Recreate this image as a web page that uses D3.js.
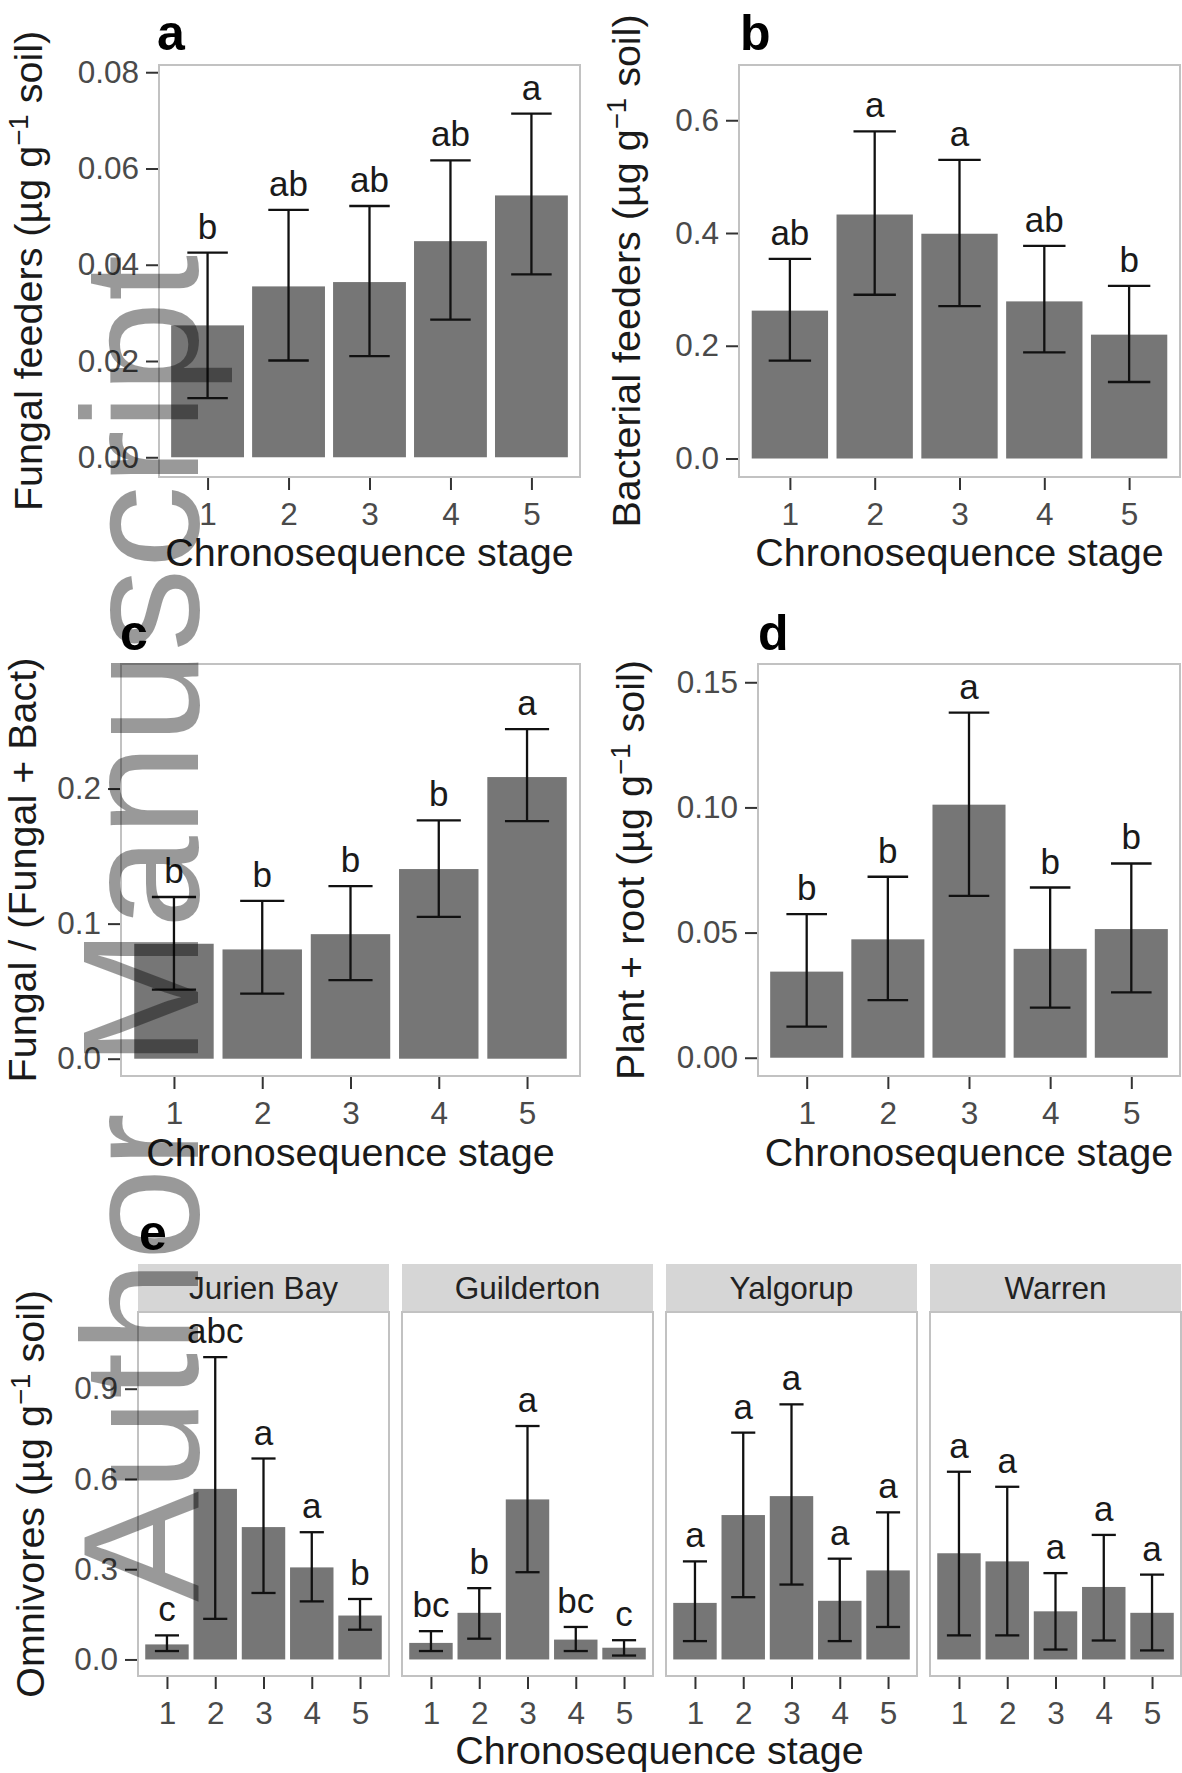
<!DOCTYPE html>
<html>
<head>
<meta charset="utf-8">
<script src="https://cdn.jsdelivr.net/npm/d3@7"></script>
<style>
  body { margin: 0; background: #fff; }
  svg { display: block; font-family: "Liberation Sans", Arial, Helvetica, sans-serif; }
</style>
</head>
<body>
<script>
// ---------------- data ----------------
var stages = ["1", "2", "3", "4", "5"];

// a : fungal feeders
var fungalMean = [0.0274, 0.0355, 0.0364, 0.0449, 0.0544];
var fungalLow  = [0.0123, 0.0201, 0.0210, 0.0286, 0.0380];
var fungalHigh = [0.0425, 0.0514, 0.0522, 0.0617, 0.0714];
var fungalLetters = ["b", "ab", "ab", "ab", "a"];
var fungalTicks = [0, 0.02, 0.04, 0.06, 0.08];

// b : bacterial feeders
var bactMean = [0.2623, 0.4328, 0.3987, 0.2787, 0.2197];
var bactLow  = [0.1738, 0.2905, 0.2702, 0.1882, 0.1357];
var bactHigh = [0.3541, 0.5803, 0.5298, 0.3770, 0.3062];
var bactLetters = ["ab", "a", "a", "ab", "b"];
var bactTicks = [0, 0.2, 0.4, 0.6];

// c : fungal / (fungal + bact)
var ratioMean = [0.0851, 0.0809, 0.0922, 0.1404, 0.2085];
var ratioLow  = [0.0511, 0.0482, 0.0582, 0.1050, 0.1759];
var ratioHigh = [0.1197, 0.1169, 0.1277, 0.1765, 0.2440];
var ratioLetters = ["b", "b", "b", "b", "a"];
var ratioTicks = [0, 0.1, 0.2];

// d : plant + root feeders
var plantMean = [0.0344, 0.0473, 0.1011, 0.0435, 0.0514];
var plantLow  = [0.0124, 0.0230, 0.0647, 0.0200, 0.0261];
var plantHigh = [0.0574, 0.0723, 0.1379, 0.0680, 0.0776];
var plantLetters = ["b", "b", "a", "b", "b"];
var plantTicks = [0, 0.05, 0.10, 0.15];

// e : omnivores by site
var sites = ["Jurien Bay", "Guilderton", "Yalgorup", "Warren"];
var omniMean = [
  [0.050, 0.567, 0.440, 0.306, 0.146],
  [0.055, 0.155, 0.532, 0.066, 0.039],
  [0.188, 0.480, 0.543, 0.195, 0.296],
  [0.353, 0.326, 0.160, 0.241, 0.155]
];
var omniLow = [
  [0.028, 0.135, 0.221, 0.193, 0.099],
  [0.028, 0.069, 0.290, 0.028, 0.013],
  [0.061, 0.207, 0.249, 0.061, 0.108],
  [0.080, 0.080, 0.033, 0.063, 0.030]
];
var omniHigh = [
  [0.080, 1.005, 0.668, 0.423, 0.201],
  [0.094, 0.237, 0.776, 0.108, 0.064],
  [0.326, 0.754, 0.848, 0.335, 0.489],
  [0.624, 0.574, 0.287, 0.414, 0.282]
];
var omniLetters = [
  ["c", "abc", "a", "a", "b"],
  ["bc", "b", "a", "bc", "c"],
  ["a", "a", "a", "a", "a"],
  ["a", "a", "a", "a", "a"]
];
var omniTicks = [0, 0.3, 0.6, 0.9];

var xTitle = "Chronosequence stage";

// ---------------- look ----------------
var W = 1182, H = 1773;
var barFill = "#767676",
    borderCol = "#c2c2c2",
    tickCol = "#333",
    tickText = "#4a4a4a",
    tickSize = 31.5,
    titleSize = 39.5,
    letterSize = 35;

var svg = d3.select("body").append("svg")
  .attr("width", W)
  .attr("height", H);

function drawPanel(p) {
  var x = d3.scalePoint().domain(stages).range([p.L, p.R]).padding(0.6);
  var y = d3.scaleLinear().domain(p.domain).range([p.B, p.T]);
  var step = x.step();
  var g = svg.append("g");

  g.append("rect")
    .attr("x", p.L).attr("y", p.T)
    .attr("width", p.R - p.L).attr("height", p.B - p.T)
    .attr("fill", "#fff");

  var rows = stages.map(function(s, i) {
    return {s: s, m: p.mean[i], lo: p.low[i], hi: p.high[i], lab: p.letters[i]};
  });

  g.selectAll(".bar").data(rows).enter().append("rect")
    .attr("x", function(d) { return x(d.s) - 0.45 * step; })
    .attr("width", 0.9 * step)
    .attr("y", function(d) { return y(d.m); })
    .attr("height", function(d) { return y(0) - y(d.m); })
    .attr("fill", barFill);

  var eb = g.selectAll(".err").data(rows).enter().append("g")
    .attr("stroke", "#111").attr("stroke-width", 2.3);
  eb.append("line")
    .attr("x1", function(d) { return x(d.s); })
    .attr("x2", function(d) { return x(d.s); })
    .attr("y1", function(d) { return y(d.lo); })
    .attr("y2", function(d) { return y(d.hi); });
  ["lo", "hi"].forEach(function(k) {
    eb.append("line")
      .attr("x1", function(d) { return x(d.s) - 0.25 * step; })
      .attr("x2", function(d) { return x(d.s) + 0.25 * step; })
      .attr("y1", function(d) { return y(d[k]); })
      .attr("y2", function(d) { return y(d[k]); });
  });

  g.selectAll(".lab").data(rows).enter().append("text")
    .attr("x", function(d) { return x(d.s); })
    .attr("y", function(d) { return y(d.hi) - 14; })
    .attr("text-anchor", "middle")
    .attr("font-size", letterSize)
    .attr("fill", "#1a1a1a")
    .text(function(d) { return d.lab; });

  g.append("rect")
    .attr("x", p.L).attr("y", p.T)
    .attr("width", p.R - p.L).attr("height", p.B - p.T)
    .attr("fill", "none")
    .attr("stroke", borderCol)
    .attr("stroke-width", 2);

  // x axis
  var ax = g.append("g")
    .attr("transform", "translate(0," + (p.B + 1) + ")")
    .call(d3.axisBottom(x).tickSize(12).tickPadding(13));
  styleAxis(ax);

  if (p.ticks) {
    var ay = g.append("g")
      .attr("transform", "translate(" + (p.L - 1) + ",0)")
      .call(d3.axisLeft(y).tickValues(p.ticks).tickFormat(d3.format(p.fmt))
        .tickSize(12).tickPadding(7));
    styleAxis(ay);
  }
  return {x: x, y: y};
}

function styleAxis(a) {
  a.select(".domain").remove();
  a.selectAll(".tick line").attr("stroke", tickCol).attr("stroke-width", 2);
  a.selectAll(".tick text")
    .attr("fill", tickText)
    .attr("font-size", tickSize)
    .attr("font-family", "Liberation Sans, Arial, sans-serif");
}

function yTitle(x, cy, main, unit) {
  var t = svg.append("text")
    .attr("transform", "translate(" + x + "," + cy + ") rotate(-90)")
    .attr("text-anchor", "middle")
    .attr("font-size", titleSize)
    .attr("fill", "#1a1a1a");
  if (unit) {
    t.append("tspan").text(main + " (\u00b5g g");
    t.append("tspan").attr("font-size", titleSize * 0.7).attr("dy", -14).text("\u22121");
    t.append("tspan").attr("dy", 14).text(" soil)");
  } else {
    t.text(main);
  }
}

function xTitleAt(cx, y) {
  svg.append("text")
    .attr("x", cx).attr("y", y)
    .attr("text-anchor", "middle")
    .attr("font-size", titleSize)
    .attr("fill", "#1a1a1a")
    .text(xTitle);
}

function tag(x, y, s) {
  svg.append("text")
    .attr("x", x).attr("y", y)
    .attr("font-size", 50)
    .attr("font-weight", "bold")
    .attr("fill", "#000")
    .text(s);
}

// ---------------- panel a ----------------
drawPanel({L: 159, R: 580, T: 65, B: 477, domain: [-0.0041, 0.0815],
  mean: fungalMean, low: fungalLow, high: fungalHigh, letters: fungalLetters,
  ticks: fungalTicks, fmt: ".2f"});
tag(157, 50, "a");
yTitle(42, 271, "Fungal feeders", true);
xTitleAt(369.5, 566);

// ---------------- panel b ----------------
drawPanel({L: 739, R: 1180, T: 65, B: 477, domain: [-0.0328, 0.698],
  mean: bactMean, low: bactLow, high: bactHigh, letters: bactLetters,
  ticks: bactTicks, fmt: ".1f"});
tag(740, 50, "b");
yTitle(640, 271, "Bacterial feeders", true);
xTitleAt(959.5, 566);

// ---------------- panel c ----------------
drawPanel({L: 121, R: 580, T: 664, B: 1076, domain: [-0.0128, 0.2922],
  mean: ratioMean, low: ratioLow, high: ratioHigh, letters: ratioLetters,
  ticks: ratioTicks, fmt: ".1f"});
tag(120, 650, "c");
yTitle(36, 870, "Fungal / (Fungal + Bact)", false);
xTitleAt(350.5, 1166);

// ---------------- panel d ----------------
drawPanel({L: 758, R: 1180, T: 664, B: 1076, domain: [-0.0073, 0.1573],
  mean: plantMean, low: plantLow, high: plantHigh, letters: plantLetters,
  ticks: plantTicks, fmt: ".2f"});
tag(758, 650, "d");
yTitle(644, 870, "Plant + root", true);
xTitleAt(969, 1166);

// ---------------- panel e ----------------
var facetL = 138, facetW = 251, facetGap = 13;
var stripT = 1264, stripB = 1312, eB = 1676;
sites.forEach(function(site, k) {
  var L = facetL + k * (facetW + facetGap);
  svg.append("rect")
    .attr("x", L).attr("y", stripT)
    .attr("width", facetW).attr("height", stripB - stripT)
    .attr("fill", "#d6d6d6");
  svg.append("text")
    .attr("x", L + facetW / 2).attr("y", (stripT + stripB) / 2 + 11)
    .attr("text-anchor", "middle")
    .attr("font-size", tickSize)
    .attr("fill", "#222")
    .text(site);
  drawPanel({L: L, R: L + facetW, T: stripB, B: eB, domain: [-0.055, 1.155],
    mean: omniMean[k], low: omniLow[k], high: omniHigh[k], letters: omniLetters[k],
    ticks: k === 0 ? omniTicks : null, fmt: ".1f"});
});
tag(139, 1250, "e");
yTitle(44, 1494, "Omnivores", true);
xTitleAt(facetL + (4 * facetW + 3 * facetGap) / 2, 1764);

// ---------------- watermark ----------------
svg.append("text")
  .attr("transform", "translate(198,1602) rotate(-90)")
  .attr("font-size", 166)
  .attr("fill", "#000")
  .attr("fill-opacity", 0.4)
  .text("Author Manuscript");
</script>
</body>
</html>
